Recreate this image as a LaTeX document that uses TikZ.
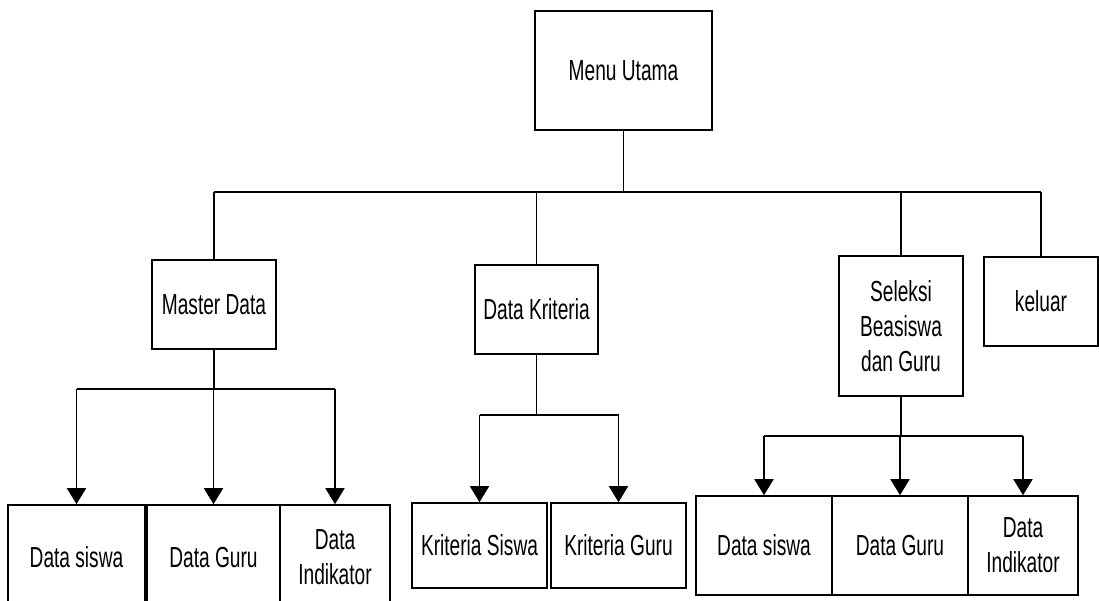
\documentclass[tikz,border=0pt]{standalone}
\usepackage{fontspec}
\setmainfont{Liberation Sans}[FakeStretch=0.66]
\usetikzlibrary{arrows.meta}
\begin{document}
\begin{tikzpicture}[x=1pt,y=-1pt,
  box/.style={draw=black,line width=1.6pt,fill=white,inner sep=0pt,align=center,
    font=\fontsize{29}{35}\selectfont},
  wire/.style={line width=1.6pt},
  mainbus/.style={line width=2.6pt},
  arr/.style={line width=1.6pt,-{Triangle[width=19pt,length=16pt]}}]
\useasboundingbox (0,0) rectangle (1099,600);
\clip (0,0) rectangle (1099,600);

% top level
\node[box,minimum width=177pt,minimum height=119pt] (menu) at (623.5,70.5) {Menu Utama};

% second level
\node[box,minimum width=124pt,minimum height=89pt] (master) at (214,304.5) {Master Data};
\node[box,minimum width=123pt,minimum height=89pt] (kriteria) at (536.5,309.5) {Data Kriteria};
\node[box,minimum width=124pt,minimum height=140pt] (seleksi) at (901,326) {Seleksi\\Beasiswa\\dan Guru};
\node[box,minimum width=114pt,minimum height=89pt] (keluar) at (1041,301.5) {keluar};

% third level under Master Data
\node[box,minimum width=137pt,minimum height=105pt] (ds1) at (76.5,557.5) {Data siswa};
\node[box,minimum width=133pt,minimum height=105pt] (dg1) at (213.5,557.5) {Data Guru};
\node[box,minimum width=110pt,minimum height=105pt] (di1) at (335,557.5) {Data\\Indikator};

% third level under Data Kriteria
\node[box,minimum width=135pt,minimum height=85pt] (ks) at (479.5,545.5) {Kriteria Siswa};
\node[box,minimum width=135pt,minimum height=85pt] (kg) at (618.5,545.5) {Kriteria Guru};

% third level under Seleksi
\node[box,minimum width=136pt,minimum height=99pt] (ds2) at (764,545.5) {Data siswa};
\node[box,minimum width=136pt,minimum height=99pt] (dg2) at (900,545.5) {Data Guru};
\node[box,minimum width=110pt,minimum height=99pt] (di2) at (1023,545.5) {Data\\Indikator};

% main bus
\coordinate (bus) at (623.5,192);
\draw[wire] (menu.south) -- (bus);
\draw[mainbus] (master.north |- bus) -- (keluar.north |- bus);
\foreach \n in {master,kriteria,seleksi,keluar}
  \draw[wire] (\n.north |- bus) -- (\n.north);

% Master Data branches
\coordinate (mb) at (214,389);
\draw[wire] (master.south) -- (master.south |- mb);
\draw[wire] (ds1.north |- mb) -- (di1.north |- mb);
\foreach \n in {ds1,dg1,di1}
  \draw[arr] (\n.north |- mb) -- (\n.north);

% Data Kriteria branches
\coordinate (kb) at (536.5,415);
\draw[wire] (kriteria.south) -- (kriteria.south |- kb);
\draw[wire] (ks.north |- kb) -- (kg.north |- kb);
\foreach \n in {ks,kg}
  \draw[arr] (\n.north |- kb) -- (\n.north);

% Seleksi branches
\coordinate (sb) at (901,436);
\draw[wire] (seleksi.south) -- (seleksi.south |- sb);
\draw[wire] (ds2.north |- sb) -- (di2.north |- sb);
\foreach \n in {ds2,dg2,di2}
  \draw[arr] (\n.north |- sb) -- (\n.north);
\end{tikzpicture}
\end{document}
